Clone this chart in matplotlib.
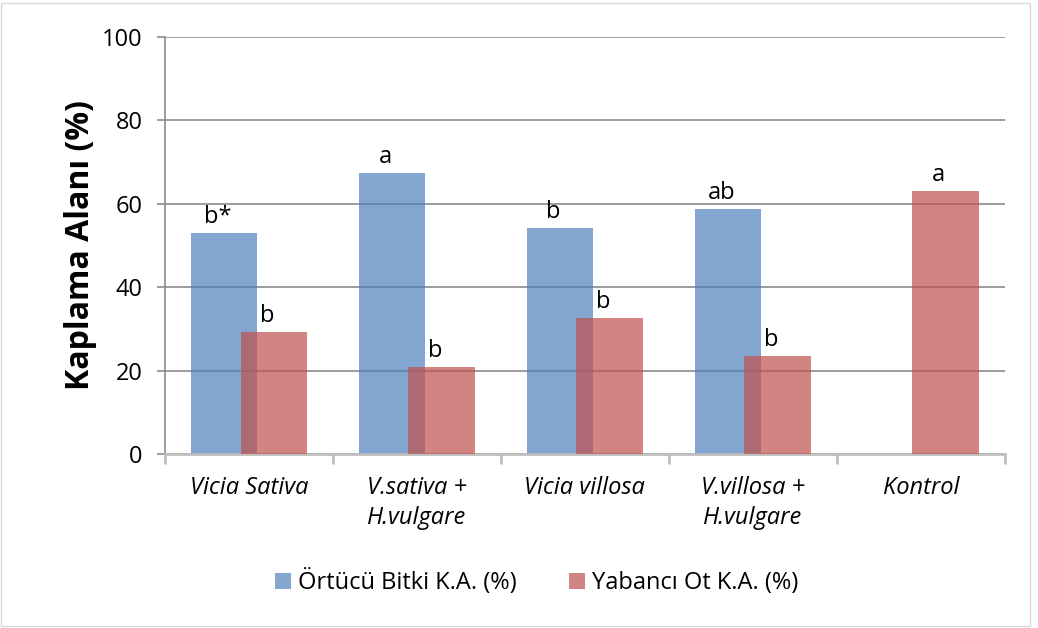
import numpy as np
import matplotlib.pyplot as plt
from matplotlib.patches import Rectangle

plt.rcParams['font.family'] = ['Open Sans', 'DejaVu Sans']

# data
categories = ["Vicia Sativa", "V.sativa +\nH.vulgare", "Vicia villosa", "V.villosa +\nH.vulgare", "Kontrol"]
ortucu = [53.0, 67.4, 54.2, 58.8, 0.0]
yabanci = [29.3, 20.9, 32.6, 23.5, 63.1]
ortucu_letters = ["b*", "a", "b", "ab", ""]
yabanci_letters = ["b", "b", "b", "b", "a"]

fig = plt.figure(figsize=(10.38, 6.28), dpi=100)
ax = fig.add_axes([0.159, 0.277, 0.809, 0.664])

x = np.arange(len(categories))
w = 0.395
off = 0.147
blue = '#4F81BD'
red = '#C0504D'

b1 = ax.bar(x - off, ortucu, w, color=blue, alpha=0.7, zorder=2, label='Örtücü Bitki K.A. (%)')
b2 = ax.bar(x + off, yabanci, w, color=red, alpha=0.7, zorder=3, label='Yabancı Ot K.A. (%)')

for xi, v, t in zip(x, ortucu, ortucu_letters):
    if t:
        ax.annotate(t, (xi - off - 0.04, v), xytext=(0, 3), textcoords='offset points',
                    ha='center', va='bottom', fontsize=17)
for xi, v, t in zip(x, yabanci, yabanci_letters):
    ax.annotate(t, (xi + off - 0.04, v), xytext=(0, 3), textcoords='offset points',
                ha='center', va='bottom', fontsize=17)

ax.set_xlim(-0.5, len(categories) - 0.5)
ax.set_ylim(0, 100)
ax.set_yticks(range(0, 101, 20))
ax.yaxis.grid(True, color='#8C8C8C', linewidth=1.2, zorder=0)
ax.set_axisbelow(True)
ax.tick_params(axis='y', labelsize=17, length=6, color='#8C8C8C', width=1.2, pad=10)

ax.set_xticks(x)
ax.set_xticklabels(categories, fontsize=17, style='italic', linespacing=1.3)
ax.set_xticks(np.arange(-0.5, len(categories)), minor=True)
ax.tick_params(axis='x', which='major', length=0, pad=16)
ax.tick_params(axis='x', which='minor', length=7, color='#BFBFBF', width=2)

for s in ['top', 'right']:
    ax.spines[s].set_visible(False)
ax.spines['left'].set_color('#8C8C8C')
ax.spines['left'].set_linewidth(1.2)
ax.spines['bottom'].set_color('#BFBFBF')
ax.spines['bottom'].set_linewidth(2)

ax.set_ylabel('Kaplama Alanı (%)', fontsize=23, fontweight='bold', labelpad=4)

fig.legend(handles=[b1, b2], loc='center', bbox_to_anchor=(0.517, 0.073), ncol=2,
           frameon=False, fontsize=17, handlelength=0.7, handleheight=0.7,
           handletextpad=0.3, columnspacing=2.2)

fig.patches.append(Rectangle((0.001, 0.003), 0.991, 0.993, transform=fig.transFigure,
                             fill=False, edgecolor='#D9D9D9', linewidth=1))

fig.savefig('out.png', dpi=100)
